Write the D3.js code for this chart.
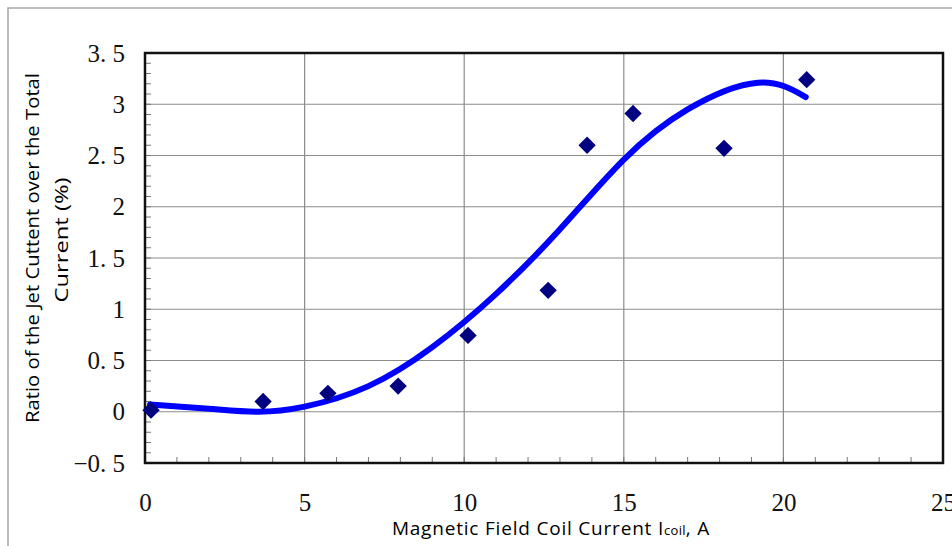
<!DOCTYPE html>
<html>
<head>
<meta charset="utf-8">
<script src="https://cdn.jsdelivr.net/npm/d3@7"></script>
<style>
  body { margin: 0; background: #fff; }
  svg { display: block; }
</style>
</head>
<body>
<div id="my_dataviz"></div>
<script>
// measured points
const coilCurrent = [0.19, 3.7, 5.73, 7.93, 10.12, 12.63, 13.85, 15.29, 18.14, 20.73];
const jetRatio    = [0.015, 0.10, 0.18, 0.25, 0.745, 1.185, 2.60, 2.91, 2.57, 3.24];

// trend line
const trendX = [0.16, 2, 3.5, 5, 7, 9, 11, 13, 15, 17, 19.2, 20.7];
const trendY = [0.07, 0.03, 0.0, 0.05, 0.25, 0.63, 1.15, 1.78, 2.46, 2.95, 3.21, 3.07];

const xTicks = [0, 5, 10, 15, 20, 25];
const xTickLabels = ["0", "5", "10", "15", "20", "25"];
const yTicks = [-0.5, 0, 0.5, 1, 1.5, 2, 2.5, 3, 3.5];
const yTickLabels = ["\u22120. 5", "0", "0. 5", "1", "1. 5", "2", "2. 5", "3", "3. 5"];

const margin = {top: 53, right: 9, bottom: 83, left: 145},
    width = 952 - margin.left - margin.right,
    height = 546 - margin.top - margin.bottom;

const root = d3.select("#my_dataviz")
  .append("svg")
    .attr("width", 952)
    .attr("height", 546);

// outer chart frame (runs off the right and bottom edges)
root.append("path")
  .attr("d", "M8,546 L8,8 L952,8")
  .attr("fill", "none")
  .attr("stroke", "#a6a6a6")
  .attr("stroke-width", 1.5);

const svg = root.append("g")
  .attr("transform", `translate(${margin.left}, ${margin.top})`);

const x = d3.scaleLinear()
  .domain([0, 25])
  .range([0, width]);

const y = d3.scaleLinear()
  .domain([-0.5, 3.5])
  .range([height, 0]);

// grid
svg.append("g")
  .selectAll("line")
  .data(xTicks.slice(1, -1))
  .join("line")
    .attr("x1", function(d) { return x(d) })
    .attr("x2", function(d) { return x(d) })
    .attr("y1", 0)
    .attr("y2", height)
    .attr("stroke", "#8c8c8c")
    .attr("stroke-width", 1.2);

svg.append("g")
  .selectAll("line")
  .data(yTicks.slice(1, -1))
  .join("line")
    .attr("x1", 0)
    .attr("x2", width)
    .attr("y1", function(d) { return y(d) })
    .attr("y2", function(d) { return y(d) })
    .attr("stroke", "#8c8c8c")
    .attr("stroke-width", 1.2);

// minor ticks, pointing inward
svg.append("g")
  .selectAll("line")
  .data(d3.range(-5, 36).map(function(i) { return i / 10 }))
  .join("line")
    .attr("x1", 0)
    .attr("x2", 6)
    .attr("y1", function(d) { return y(d) })
    .attr("y2", function(d) { return y(d) })
    .attr("stroke", "#777")
    .attr("stroke-width", 1);

svg.append("g")
  .selectAll("line")
  .data(d3.range(1, 25))
  .join("line")
    .attr("x1", function(d) { return x(d) })
    .attr("x2", function(d) { return x(d) })
    .attr("y1", height)
    .attr("y2", height - 6)
    .attr("stroke", "#777")
    .attr("stroke-width", 1);

// plot border
svg.append("rect")
  .attr("x", 0)
  .attr("y", 0)
  .attr("width", width)
  .attr("height", height)
  .attr("fill", "none")
  .attr("stroke", "#111")
  .attr("stroke-width", 2.5);

// tick labels
const xAxis = svg.append("g")
  .attr("transform", `translate(0, ${height})`)
  .call(d3.axisBottom(x)
    .tickValues(xTicks)
    .tickSize(0)
    .tickPadding(30)
    .tickFormat(function(d, i) { return xTickLabels[i] }));
xAxis.select(".domain").remove();
xAxis.selectAll("text")
  .attr("font-family", "'Liberation Serif', serif")
  .attr("font-size", 25)
  .attr("fill", "#111");

const yAxis = svg.append("g")
  .call(d3.axisLeft(y)
    .tickValues(yTicks)
    .tickSize(0)
    .tickPadding(20)
    .tickFormat(function(d, i) { return yTickLabels[i] }));
yAxis.select(".domain").remove();
yAxis.selectAll("text")
  .attr("font-family", "'Liberation Serif', serif")
  .attr("font-size", 25)
  .attr("fill", "#111");

// trend line
const trend = trendX.map(function(d, i) { return {x: d, y: trendY[i]} });
svg.append("path")
  .datum(trend)
  .attr("fill", "none")
  .attr("stroke", "#0000ff")
  .attr("stroke-width", 6)
  .attr("stroke-linecap", "round")
  .attr("d", d3.line()
    .curve(d3.curveNatural)
    .x(function(d) { return x(d.x) })
    .y(function(d) { return y(d.y) })
  );

// measured points as diamonds
svg.append("g")
  .selectAll("path")
  .data(coilCurrent)
  .join("path")
    .attr("d", d3.symbol().type(d3.symbolSquare).size(150))
    .attr("transform", function(d, i) { return `translate(${x(d)}, ${y(jetRatio[i])}) rotate(45)` })
    .attr("fill", "#000080");

// axis titles
root.append("text")
  .attr("x", 551)
  .attr("y", 535)
  .attr("text-anchor", "middle")
  .attr("font-family", "'Open Sans', sans-serif")
  .attr("font-size", 19)
  .attr("letter-spacing", 0.8)
  .attr("fill", "#000")
  .call(function(t) {
    t.append("tspan").text("Magnetic Field Coil Current  I");
    t.append("tspan").attr("font-size", 13).attr("letter-spacing", 0.3).text("coil");
    t.append("tspan").text(", A");
  });

const yTitle = root.append("text")
  .attr("transform", "rotate(-90)")
  .attr("text-anchor", "middle")
  .attr("font-family", "'Open Sans', sans-serif")
  .attr("font-size", 19)
  .attr("fill", "#000");
yTitle.append("tspan")
  .attr("x", -248)
  .attr("y", 39)
  .attr("textLength", 350)
  .attr("lengthAdjust", "spacingAndGlyphs")
  .text("Ratio of the Jet Cuttent over the Total");
yTitle.append("tspan")
  .attr("x", -240)
  .attr("y", 68)
  .attr("textLength", 125)
  .attr("lengthAdjust", "spacingAndGlyphs")
  .text("Current (%)");
</script>
</body>
</html>
